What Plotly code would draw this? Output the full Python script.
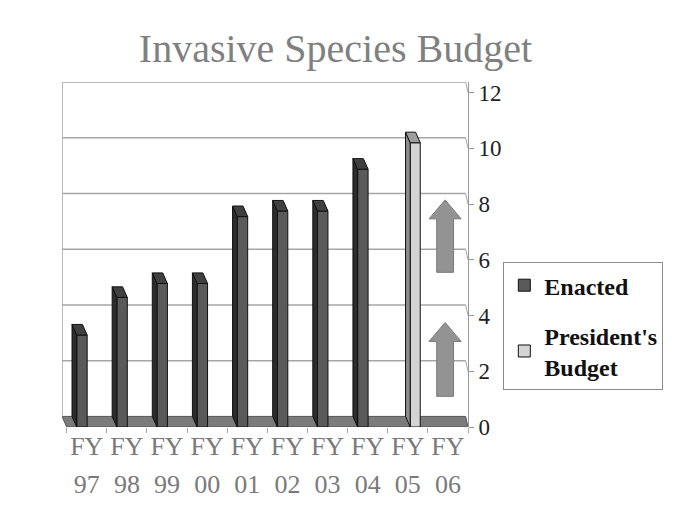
import plotly.graph_objects as go

# ---------------- data ----------------
fy_prefix = ["FY"] * 10
fy_years = ["97", "98", "99", "00", "01", "02", "03", "04", "05", "06"]
enacted = [3.3, 4.65, 5.15, 5.15, 7.55, 7.75, 7.75, 9.25, None, None]
presidents_budget = [None, None, None, None, None, None, None, None, 10.2, None]
y_ticks = [0, 2, 4, 6, 8, 10, 12]

# ---------------- styling / geometry ----------------
idx = list(range(len(fy_years)))
DX, DY = -0.117, 0.38          # 3-D depth offset (data units)
SERIF = "Liberation Serif, Times New Roman, serif"

series = [
    dict(name="Enacted", vals=enacted, offset=-0.25, width=0.26,
         front="#5a5a5a", side="#2c2c2c", top="#404040"),
    dict(name="President's<br>Budget", vals=presidents_budget, offset=0.06, width=0.25,
         front="#d4d4d4", side="#8c8c8c", top="#9e9e9e"),
]

fig = go.Figure()

for s in series:
    fig.add_trace(go.Bar(
        x=idx, y=s["vals"], offset=s["offset"], width=s["width"],
        name=s["name"], marker=dict(color=s["front"], line=dict(color="#111", width=1)),
        legendgroup=s["name"],
    ))
    sx, sy, tx, ty = [], [], [], []
    for i, v in zip(idx, s["vals"]):
        if v is None:
            continue
        x0 = i + s["offset"]
        x1 = x0 + s["width"]
        sx += [x0, x0 + DX, x0 + DX, x0, x0, None]
        sy += [0, DY, v + DY, v, 0, None]
        tx += [x0, x1, x1 + DX, x0 + DX, x0, None]
        ty += [v, v, v + DY, v + DY, v, None]
    fig.add_trace(go.Scatter(x=sx, y=sy, fill="toself", fillcolor=s["side"], mode="lines",
                             line=dict(color="#111", width=1), showlegend=False, hoverinfo="skip"))
    fig.add_trace(go.Scatter(x=tx, y=ty, fill="toself", fillcolor=s["top"], mode="lines",
                             line=dict(color="#111", width=1), showlegend=False, hoverinfo="skip"))

shapes = []
shapes.append(dict(type="path", xref="x", yref="y", layer="below",
                   path=f"M -0.5,0 L 9.5,0 L {9.5 + DX / 2},{DY} L {-0.5 + DX},{DY} Z",
                   fillcolor="#7b7b7b", line=dict(color="#555555", width=1)))
for t in y_ticks[1:]:
    shapes.append(dict(type="line", xref="x", yref="y", layer="below",
                       x0=-0.5 + DX, x1=9.5 + DX / 2, y0=t + DY, y1=t + DY,
                       line=dict(color="#a6a6a6", width=1.5)))
    shapes.append(dict(type="line", xref="x", yref="y", layer="below",
                       x0=9.5 + DX / 2, x1=9.5, y0=t + DY, y1=t,
                       line=dict(color="#a6a6a6", width=1)))
shapes.append(dict(type="line", xref="x", yref="y", layer="below",
                   x0=-0.5 + DX, x1=-0.5 + DX, y0=DY, y1=12 + DY,
                   line=dict(color="#a6a6a6", width=1.5)))

ARROW_X = 8.93
for yb, yt in [(1.1, 3.75), (5.55, 8.15)]:
    hb = yt - 0.68
    sw, hw = 0.21, 0.40
    shapes.append(dict(type="path", xref="x", yref="y",
                       path=(f"M {ARROW_X - sw},{yb} L {ARROW_X + sw},{yb} L {ARROW_X + sw},{hb} "
                             f"L {ARROW_X + hw},{hb} L {ARROW_X},{yt} L {ARROW_X - hw},{hb} "
                             f"L {ARROW_X - sw},{hb} Z"),
                       fillcolor="#939393", line=dict(color="#7a7a7a", width=1)))

fig.update_layout(
    width=675, height=506,
    margin=dict(l=62, r=207, t=82, b=79, autoexpand=False),
    paper_bgcolor="white", plot_bgcolor="white",
    barmode="overlay",
    showlegend=True,
    title=dict(text="Invasive Species Budget", x=0.497, xanchor="center",
               y=0.905, yanchor="middle",
               font=dict(family=SERIF, size=40, color="#808080")),
    legend=dict(x=1.087, y=0.478, xanchor="left", yanchor="top",
                bordercolor="#8a8a8a", borderwidth=1, bgcolor="white",
                font=dict(family=SERIF, size=24, color="#111", weight="bold"),
                tracegroupgap=16),
    shapes=shapes,
    xaxis=dict(range=[-0.5 + DX, 9.5], tickmode="array", automargin=False,
               tickvals=[i - 0.5 for i in range(11)], ticktext=[""] * 11,
               ticks="outside", ticklen=5, tickcolor="#aaaaaa",
               showgrid=False, zeroline=False, showline=False),
    xaxis2=dict(overlaying="x", anchor="y", side="bottom", matches="x", automargin=False,
                range=[-0.5 + DX, 9.5], tickmode="array", tickvals=idx, ticktext=fy_prefix,
                ticks="", showgrid=False, zeroline=False, showline=False,
                ticklabelstandoff=1,
                tickfont=dict(family=SERIF, size=26, color="#7a7a7a")),
    xaxis3=dict(overlaying="x", anchor="y", side="bottom", matches="x", automargin=False,
                range=[-0.5 + DX, 9.5], tickmode="array", tickvals=idx, ticktext=fy_years,
                ticks="", showgrid=False, zeroline=False, showline=False,
                ticklabelstandoff=39,
                tickfont=dict(family=SERIF, size=26, color="#7a7a7a")),
    yaxis=dict(range=[0, 12 + DY], side="right", tickmode="array", tickvals=y_ticks,
               automargin=False,
               ticks="outside", ticklen=5, tickcolor="#999999",
               showgrid=False, zeroline=False, showline=True, linecolor="#999999",
               tickfont=dict(family=SERIF, size=23, color="#222222")),
)

fig.add_trace(go.Scatter(x=[0], y=[0], xaxis="x2", mode="markers", marker=dict(opacity=0),
                         showlegend=False, hoverinfo="skip"))
fig.add_trace(go.Scatter(x=[0], y=[0], xaxis="x3", mode="markers", marker=dict(opacity=0),
                         showlegend=False, hoverinfo="skip"))

fig.write_html("out.html")
